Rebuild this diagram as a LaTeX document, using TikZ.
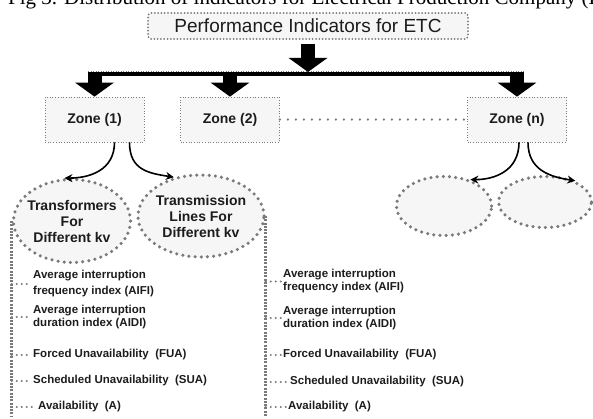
\documentclass[tikz,border=0pt]{standalone}
\usepackage{fontspec}
\setmainfont{Liberation Sans}
\newfontfamily\didafont{Liberation Serif}
\usetikzlibrary{arrows.meta,shapes.geometric}
\definecolor{grigio}{HTML}{7A7A7A}
\definecolor{sfondo}{HTML}{F6F6F6}
\definecolor{testo}{HTML}{1C1C1C}

\begin{document}
\begin{tikzpicture}[x=1pt,y=-1pt,
        zona/.style={draw=grigio, dotted, line width=0.7pt, fill=sfondo, minimum width=99pt, minimum height=45pt, inner sep=0pt, text=testo, font=\fontsize{14}{16}\selectfont\bfseries},
        bolla/.style={ellipse, draw=grigio, fill=sfondo, line width=3.5pt, line cap=round, dash pattern=on 0pt off 6.2pt, inner sep=0pt},
        bollatesto/.style={align=center, inner sep=0pt, text=testo, font=\fontsize{14}{16}\selectfont\bfseries},
        freccione/.style={line width=14pt, -{Triangle[width=38pt,length=14pt]}},
        freccia/.style={line width=1.6pt, -{Stealth[length=8pt,width=8pt]}},
        colonna/.style={grigio, line width=2.6pt, dash pattern=on 2pt off 1.3pt},
        puntini/.style={grigio, line width=2.2pt, line cap=round, dash pattern=on 0pt off 5pt},
        voce/.style={anchor=west, align=left, inner sep=0pt, text=testo, font=\fontsize{11.5}{13}\selectfont\bfseries}]

    \useasboundingbox (0,0) rectangle (593,419);
    \clip (0,0) rectangle (593,419);

    % Didascalia (tagliata in alto)
    \node[anchor=base west, inner sep=0pt, font=\didafont\fontsize{21}{24}\selectfont] (dida) at (8,5) {Fig 3. Distribution of indicators for Electrical Production Company (E};

    % Box in alto
    \node[draw=grigio, line width=2pt, line cap=round, dash pattern=on 0pt off 3.3pt, rounded corners=3pt, fill=sfondo, minimum width=320pt, minimum height=26pt, inner sep=0pt, text=testo, font=\fontsize{19}{22}\selectfont] (perf) at (308,26) {Performance Indicators for ETC};

    % Zone
    \node[zona] (zona1) at (94.5,119.5) {Zone (1)};
    \node[zona] (zona2) at (230,119.5) {Zone (2)};
    \node[zona] (zonan) at (517,119.5) {Zone (n)};

    % Barra orizzontale
    \coordinate (barraS) at (88,74);
    \coordinate (barraD) at (524,74);
    \draw[grigio, dotted, line width=0.5pt] ([yshift=3pt]barraS) -- ([yshift=3pt]barraD);
    \draw[line width=4pt] (barraS) -- (barraD);

    % Frecce grandi
    \draw[freccione] ([yshift=-4pt]perf.south) -- ([yshift=2pt]perf.south |- barraS);
    \draw[freccione] (zona1.north |- barraS) -- (zona1.north);
    \draw[freccione] (zona2.north |- barraS) -- (zona2.north);
    \draw[freccione] (zonan.north |- barraS) -- (zonan.north);

    % Linea a puntini tra le zone
    \draw[grigio, line width=2.6pt, line cap=round, dash pattern=on 0pt off 8pt] (zona2.east) -- (zonan.west);

    % Ellissi
    \node[bolla, minimum width=117pt, minimum height=83pt] (trasf) at (72,221) {};
    \node[bollatesto] (trasfT) at (trasf) {Transformers\\For\\Different kv};
    \node[bolla, minimum width=126pt, minimum height=82pt] (linee) at (201,216) {};
    \node[bollatesto] (lineeT) at (linee) {Transmission\\Lines For\\Different kv};
    \node[bolla, minimum width=95pt, minimum height=59pt] (vuotaA) at (444,206) {};
    \node[bolla, minimum width=93pt, minimum height=51pt] (vuotaB) at (545,202) {};

    % Frecce curve
    \draw[freccia] ([xshift=20pt]zona1.south) .. controls +(0,28) and +(25,0) .. (trasf.100);
    \draw[freccia] ([xshift=35pt]zona1.south) .. controls +(0,28) and +(-25,-4) .. (linee.125);
    \draw[freccia] ([xshift=2pt]zonan.south) .. controls +(0,28) and +(25,0) .. (vuotaA.45);
    \draw[freccia] ([xshift=11pt]zonan.south) .. controls +(0,28) and +(-25,-4) .. (vuotaB.35);

    % Colonne a puntini
    \coordinate (basso) at (0,417);
    \draw[colonna] (trasf.west) -- (trasf.west |- basso);
    \draw[colonna] (linee.east) -- (linee.east |- basso);

    % Voci a sinistra
    \node[voce] (aifiS) at (33,284) {Average interruption\\[3pt]frequency index (AIFI)};
    \node[voce] (aidiS) at (33,317) {Average interruption\\duration index (AIDI)};
    \node[voce] (fuaS) at (33,355) {Forced Unavailability~ (FUA)};
    \node[voce] (suaS) at (33,381) {Scheduled Unavailability~ (SUA)};
    \node[voce] (avS) at (38,407) {Availability~ (A)};

    % Voci a destra
    \node[voce] (aifiD) at (283,281.5) {Average interruption\\frequency index (AIFI)};
    \node[voce] (aidiD) at (283,318) {Average interruption\\duration index (AIDI)};
    \node[voce] (fuaD) at (283,355) {Forced Unavailability~ (FUA)};
    \node[voce] (suaD) at (290,382) {Scheduled Unavailability~ (SUA)};
    \node[voce] (avD) at (288,407) {Availability~ (A)};

    % Puntini di collegamento
    \foreach \v in {aifiS,aidiS,fuaS,suaS,avS}
        \draw[puntini] (trasf.west |- \v.west) -- ([xshift=-2pt]\v.west);
    \foreach \v in {aifiD,aidiD,fuaD,suaD,avD}
        \draw[puntini] (linee.east |- \v.west) -- ([xshift=-2pt]\v.west);

\end{tikzpicture}
\end{document}
